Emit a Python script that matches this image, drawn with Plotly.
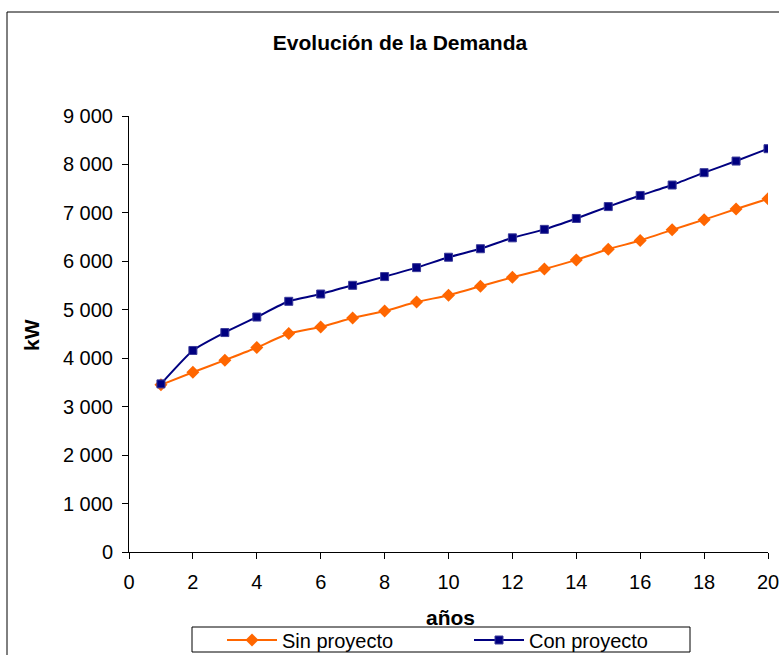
import plotly.graph_objects as go

years = list(range(1, 21))
sin_proyecto = [3450, 3710, 3960, 4220, 4510, 4645, 4830, 4975, 5160, 5300,
                5485, 5670, 5840, 6030, 6250, 6430, 6650, 6860, 7080, 7290]
con_proyecto = [3470, 4160, 4530, 4850, 5175, 5325, 5505, 5685, 5870, 6085,
                6260, 6485, 6660, 6885, 7130, 7360, 7575, 7830, 8070, 8325]

FONT = "Arial, Liberation Sans, sans-serif"

L, R, T, B = 129, 768, 116, 552
PW, PH = R - L, B - T


def px_x(p):
    return (p - L) / PW


def px_y(p):
    return (B - p) / PH


fig = go.Figure()
fig.add_trace(go.Scatter(
    x=years, y=sin_proyecto, name="Sin proyecto", mode="lines+markers",
    line=dict(color="#FF6600", width=2, shape="spline", smoothing=0.5),
    marker=dict(symbol="diamond", size=10, color="#FF6600"),
))
fig.add_trace(go.Scatter(
    x=years, y=con_proyecto, name="Con proyecto", mode="lines+markers",
    line=dict(color="#000080", width=2, shape="spline", smoothing=0.5),
    marker=dict(symbol="square", size=8, color="#000080",
                line=dict(color="#3a3a9a", width=1)),
))

fig.update_layout(
    width=779, height=655,
    margin=dict(l=L, r=779 - R, t=T, b=655 - B, autoexpand=False),
    paper_bgcolor="white", plot_bgcolor="white",
    font=dict(family=FONT, size=20, color="black"),
    separators=". ",
    showlegend=True,
    title=dict(text="<b>Evolución de la Demanda</b>", x=400 / 779, xanchor="center",
               y=1 - 43 / 655, yanchor="middle", font=dict(size=21)),
    xaxis=dict(range=[0, 20], dtick=2, tick0=0, showgrid=False, zeroline=False,
               showline=True, linecolor="black", linewidth=1, automargin=False,
               ticks="outside", ticklen=6, tickcolor="black",
               ticklabelstandoff=6, ticklabeloverflow="allow"),
    yaxis=dict(range=[0, 9000], dtick=1000, showgrid=False, zeroline=False,
               showline=True, linecolor="black", linewidth=1, automargin=False,
               ticks="outside", ticklen=6, tickcolor="black", tickformat=",d",
               ticklabelstandoff=5, ticklabeloverflow="allow"),
    legend=dict(orientation="h", x=px_x(469), xanchor="center",
                y=px_y(640), yanchor="middle",
                borderwidth=0, bgcolor="rgba(0,0,0,0)", font=dict(size=20),
                entrywidth=182, itemwidth=50),
    annotations=[
        dict(text="<b>años</b>", xref="paper", yref="paper", x=px_x(450), y=px_y(617),
             xanchor="center", yanchor="middle", showarrow=False, font=dict(size=21)),
        dict(text="<b>kW</b>", xref="paper", yref="paper", x=px_x(31), y=px_y(335),
             xanchor="center", yanchor="middle", showarrow=False, textangle=-90,
             font=dict(size=21)),
    ],
    shapes=[
        dict(type="rect", xref="paper", yref="paper",
             x0=px_x(7), x1=1.2, y0=-0.5, y1=px_y(12),
             line=dict(color="black", width=1), layer="below"),
        dict(type="rect", xref="paper", yref="paper",
             x0=px_x(192), x1=px_x(690), y0=px_y(652), y1=px_y(627),
             line=dict(color="black", width=1), layer="below"),
    ],
)

fig.write_html("out.html")
